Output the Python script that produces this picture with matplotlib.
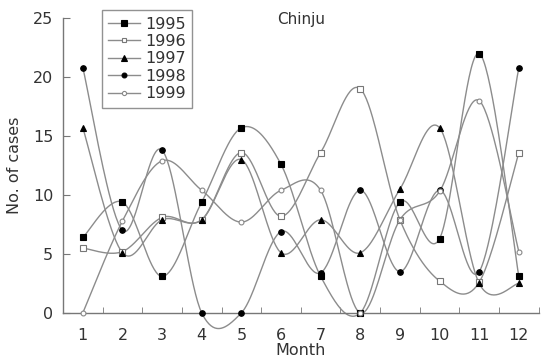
import numpy as np
import matplotlib
matplotlib.use("Agg")
import matplotlib.pyplot as plt
from matplotlib.lines import Line2D

plt.rcParams['font.family'] = 'DejaVu Sans'

months = [1, 2, 3, 4, 5, 6, 7, 8, 9, 10, 11, 12]
years = ['1995', '1996', '1997', '1998', '1999']

cases_1995 = [6.4, 9.4, 3.1, 9.4, 15.7, 12.6, 3.1, 0, 9.4, 6.3, 22.0, 3.1]
cases_1996 = [5.5, 5.2, 8.1, 7.9, 13.6, 8.2, 13.6, 19.0, 7.9, 2.7, 2.6, 13.6]
cases_1997 = [15.7, 5.1, 7.9, 7.9, 13.0, 5.1, 7.9, 5.1, 10.5, 15.7, 2.5, 2.5]
cases_1998 = [20.8, 7.0, 13.8, 0, 0, 6.9, 3.4, 10.4, 3.5, 10.4, 3.5, 20.8]
cases_1999 = [0, 7.8, 12.9, 10.4, 7.7, 10.4, 10.4, 0, 7.9, 10.3, 18.0, 5.2]

series = [cases_1995, cases_1996, cases_1997, cases_1998, cases_1999]

# marker style for each year: (marker, size, face, edge)
styles = [('s', 4.5, 'black', 'black'),
          ('s', 4.0, 'white', '#777777'),
          ('^', 5.0, 'black', 'black'),
          ('o', 4.0, 'black', 'black'),
          ('o', 3.5, 'white', '#888888')]

line_col = '#8c8c8c'
text_col = '#333333'


def smooth(x, y, n=40):
    # excel-like smoothed line (bezier with catmull-rom control points)
    x = np.asarray(x, float)
    y = np.asarray(y, float)
    N = len(x)
    xs, ys = [], []
    t = np.linspace(0, 1, n)
    for i in range(N - 1):
        a = i - 1 if i > 0 else i
        d = i + 2 if i + 2 < N else i + 1
        px = [x[i], x[i] + (x[i + 1] - x[a]) / 6, x[i + 1] - (x[d] - x[i]) / 6, x[i + 1]]
        py = [y[i], y[i] + (y[i + 1] - y[a]) / 6, y[i + 1] - (y[d] - y[i]) / 6, y[i + 1]]
        b = [(1 - t) ** 3, 3 * (1 - t) ** 2 * t, 3 * (1 - t) * t ** 2, t ** 3]
        xs.append(sum(bb * p for bb, p in zip(b, px)))
        ys.append(sum(bb * p for bb, p in zip(b, py)))
    return np.concatenate(xs), np.concatenate(ys)


fig = plt.figure(figsize=(5.43, 3.63), dpi=100)
ax = fig.add_axes([0.116, 0.138, 0.876, 0.812])

handles = []
for vals, (m, ms, fc, ec), yr in zip(series, styles, years):
    sx, sy = smooth(months, vals)
    ax.plot(sx, sy, color=line_col, lw=1.0, clip_on=False, zorder=2)
    ax.plot(months, vals, ls='none', marker=m, ms=ms, mfc=fc, mec=ec, mew=0.8,
            clip_on=False, zorder=3)
    handles.append(Line2D([], [], color=line_col, lw=1.0, marker=m, ms=ms - 0.5,
                          mfc=fc, mec=ec, mew=0.8, label=yr))

ax.set_xlim(0.5, 12.5)
ax.set_ylim(0, 25)
ax.set_xticks(months)
ax.set_xticklabels([str(m) for m in months])
ax.set_xticks(np.arange(0.5, 12.6, 1), minor=True)
ax.set_yticks([0, 5, 10, 15, 20, 25])
ax.tick_params(axis='x', which='major', length=0, pad=11, labelsize=11.5, labelcolor=text_col)
ax.tick_params(axis='x', which='minor', direction='in', length=4, color='#777777')
ax.tick_params(axis='y', direction='in', length=5, pad=7, labelsize=11.5,
               labelcolor=text_col, color='#777777')

for s in ['top', 'right']:
    ax.spines[s].set_visible(False)
for s in ['left', 'bottom']:
    ax.spines[s].set_color('#777777')
    ax.spines[s].set_linewidth(1.0)

ax.set_xlabel('Month', fontsize=11.5, color=text_col, labelpad=0)
ax.set_ylabel('No. of cases', fontsize=11.5, color=text_col, labelpad=8)
ax.text(0.5, 0.995, 'Chinju', transform=ax.transAxes, ha='center', va='center',
        fontsize=11, color=text_col)

leg = fig.legend(handles=handles, loc='upper left', bbox_to_anchor=(0.188, 0.972),
                 fontsize=11.5, frameon=True, fancybox=False, handlelength=2.0,
                 handletextpad=0.3, labelspacing=0.15, borderpad=0.4,
                 borderaxespad=0)
leg.get_frame().set_edgecolor('#777777')
leg.get_frame().set_linewidth(1.0)
for t in leg.get_texts():
    t.set_color(text_col)

fig.savefig('out.png', dpi=100)
